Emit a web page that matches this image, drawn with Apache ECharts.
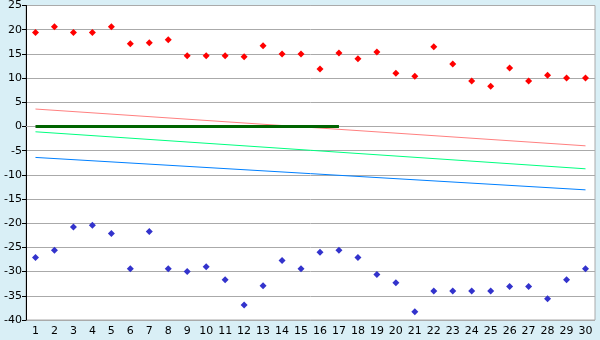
<!DOCTYPE html>
<html>
<head>
<meta charset="utf-8">
<script src="https://cdn.jsdelivr.net/npm/echarts@6/dist/echarts.min.js"></script>
<style>
html,body{margin:0;padding:0;background:#d9eff6;}
#chart{width:600px;height:340px;}
</style>
</head>
<body>
<div id="chart"></div>
<script>
var days=['1','2','3','4','5','6','7','8','9','10','11','12','13','14','15','16','17','18','19','20','21','22','23','24','25','26','27','28','29','30'];
var highVals=[19.4,20.6,19.4,19.4,20.6,17.1,17.3,17.9,14.6,14.6,14.6,14.4,16.7,15.0,15.0,11.9,15.2,14.0,15.4,11.0,10.4,16.5,12.9,9.4,8.3,12.1,9.4,10.6,10.0,10.0];
var lowVals=[-27.1,-25.6,-20.8,-20.4,-22.1,-29.4,-21.7,-29.4,-30.0,-29.0,-31.7,-36.9,-32.9,-27.7,-29.4,-26.0,-25.6,-27.1,-30.6,-32.3,-38.3,-34.0,-34.0,-34.0,-34.0,-33.1,-33.1,-35.6,-31.7,-29.4];
// trend lines: value at first and last day
var redTrend=[['1',3.6],['30',-4.0]];
var greenTrend=[['1',-1.1],['30',-8.75]];
var blueTrend=[['1',-6.4],['30',-13.1]];
var zeroLine=[['1',0],['17',0]];

var chart=echarts.init(document.getElementById('chart'));
var font='"DejaVu Sans", Verdana, sans-serif';

function trend(data,color,width){
	return {
		type:'line',
		data:data,
		symbol:'none',
		silent:true,
		lineStyle:{color:color,width:width},
		z:2
	};
}

chart.setOption({
	backgroundColor:'#d9eff6',
	animation:false,
	grid:{left:26,right:5,top:5,bottom:20,backgroundColor:'#ffffff',show:true,borderColor:'#aaaaaa',borderWidth:1},
	xAxis:{
		type:'category',
		data:days,
		boundaryGap:true,
		axisLine:{lineStyle:{color:'#aaaaaa'}},
		axisTick:{alignWithLabel:true,length:5,lineStyle:{color:'#000000'}},
		axisLabel:{color:'#000000',fontFamily:font,fontSize:11,margin:6,interval:0},
		splitLine:{show:false}
	},
	yAxis:{
		type:'value',
		min:-40,
		max:25,
		interval:5,
		axisLine:{show:true,onZero:false,lineStyle:{color:'#000000'}},
		axisTick:{show:true,length:4,lineStyle:{color:'#000000'}},
		axisLabel:{color:'#000000',fontFamily:font,fontSize:11,margin:4},
		splitLine:{lineStyle:{color:'#aaaaaa',width:1}}
	},
	series:[
		trend(redTrend,'#ff8080',1),
		trend(greenTrend,'#00ff80',1),
		trend(blueTrend,'#0080ff',1),
		trend(zeroLine,'#006400',3),
		{
			type:'scatter',
			data:highVals,
			symbol:'diamond',
			symbolSize:7,
			itemStyle:{color:'#ff0000',opacity:1},
			z:3
		},
		{
			type:'scatter',
			data:lowVals,
			symbol:'diamond',
			symbolSize:7,
			itemStyle:{color:'#3333cc',opacity:1},
			z:3
		}
	]
});
</script>
</body>
</html>
